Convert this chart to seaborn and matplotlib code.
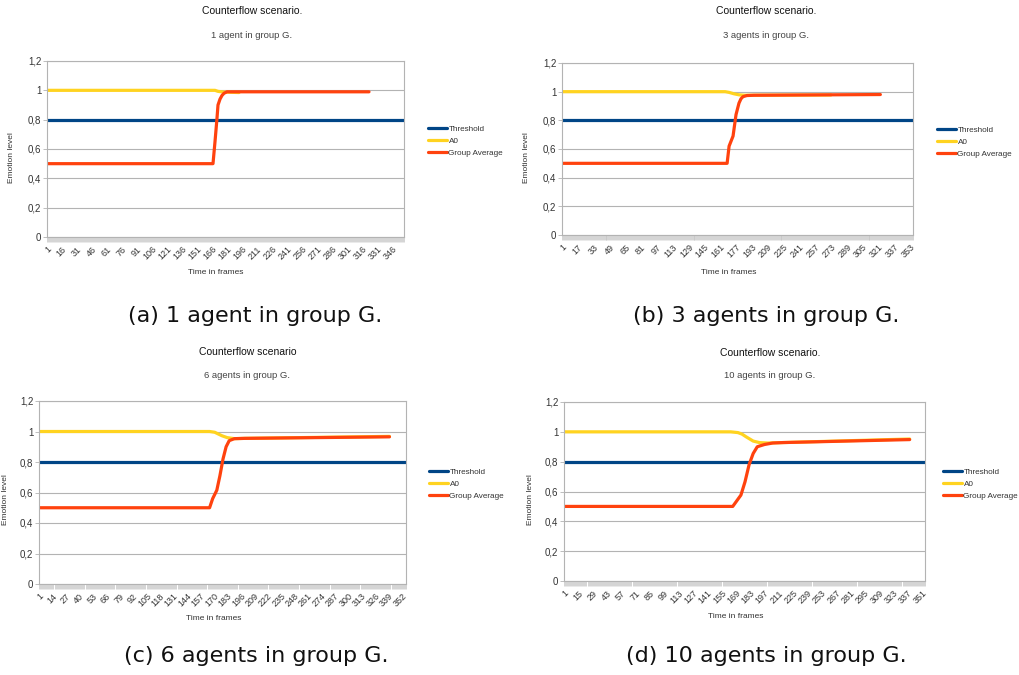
import numpy as np
import pandas as pd
import seaborn as sns
import matplotlib
matplotlib.use("Agg")
import matplotlib.pyplot as plt
from matplotlib.ticker import MultipleLocator, FixedLocator

# ---------------- data ----------------
series_names = ["Threshold", "A0", "Group Average"]
threshold_value = 0.8

# panel (a): 1 agent
n_frames_a = 358
a0_frames_a = [1, 169, 172, 178, 193]
a0_vals_a = [1.0, 1.0, 0.993, 0.988, 0.985]
ga_frames_a = [1, 167, 169, 171, 172, 174, 176, 178, 181, 186, 323]
ga_vals_a = [0.5, 0.5, 0.65, 0.81, 0.90, 0.94, 0.965, 0.98, 0.99, 0.99, 0.99]

# panel (b): 3 agents
n_frames_b = 356
a0_frames_b = [1, 166, 170, 175, 180, 186, 273]
a0_vals_b = [1.0, 1.0, 0.995, 0.985, 0.978, 0.975, 0.977]
ga_frames_b = [1, 168, 170, 174, 177, 180, 182, 184, 188, 195, 323]
ga_vals_b = [0.5, 0.5, 0.62, 0.69, 0.84, 0.92, 0.95, 0.965, 0.973, 0.975, 0.98]

# panel (c): 6 agents
n_frames_c = 356
a0_frames_c = [1, 166, 171, 174, 178, 183, 190, 200, 340]
a0_vals_c = [1.0, 1.0, 0.995, 0.985, 0.972, 0.96, 0.953, 0.955, 0.968]
ga_frames_c = [1, 166, 169, 173, 176, 179, 182, 185, 190, 200, 340]
ga_vals_c = [0.5, 0.5, 0.56, 0.615, 0.71, 0.82, 0.90, 0.94, 0.953, 0.955, 0.965]

# panel (d): 10 agents
n_frames_d = 354
a0_frames_d = [1, 164, 171, 175, 179, 186, 192, 200, 215, 339]
a0_vals_d = [1.0, 1.0, 0.995, 0.985, 0.967, 0.938, 0.928, 0.925, 0.928, 0.952]
ga_frames_d = [1, 166, 174, 178, 182, 186, 190, 197, 205, 215, 339]
ga_vals_d = [0.5, 0.5, 0.576, 0.665, 0.78, 0.855, 0.90, 0.915, 0.925, 0.928, 0.948]

label_steps = [15, 16, 13, 14]
titles = ["Counterflow scenario.", "Counterflow scenario.",
          "Counterflow scenario", "Counterflow scenario."]
subtitles = ["1 agent in group G.", "3 agents in group G.",
             "6 agents in group G.", "10 agents in group G."]
captions = ["(a) 1 agent in group G.", "(b) 3 agents in group G.",
            "(c) 6 agents in group G.", "(d) 10 agents in group G."]
y_ticks = [0, 0.2, 0.4, 0.6, 0.8, 1.0, 1.2]
y_tick_labels = ["0", "0,2", "0,4", "0,6", "0,8", "1", "1,2"]
x_label = "Time in frames"
y_label = "Emotion level"

# ---------------- style ----------------
sns.set_style("white")
plt.rcParams["font.family"] = ["Liberation Sans", "DejaVu Sans"]
COL = {"Threshold": "#004586", "A0": "#ffd320", "Group Average": "#ff420e"}
GRID = "#b3b3b3"
W, H = 1020, 675
CHART_FONT = ["Liberation Sans", "DejaVu Sans"]
CAP_FONT = ["DejaVu Sans"]

fig = plt.figure(figsize=(W / 100, H / 100), dpi=100)


def fx(x):
    return x / W


def fy(y):
    return 1 - y / H


panels = [
    dict(n=n_frames_a, a0=(a0_frames_a, a0_vals_a), ga=(ga_frames_a, ga_vals_a),
         box=(47, 61, 404, 237), title=(252, 11), sub=(252, 35), ylab=(12, 158),
         xlab=(216, 273), leg=(428, 141), cap=(255, 316)),
    dict(n=n_frames_b, a0=(a0_frames_b, a0_vals_b), ga=(ga_frames_b, ga_vals_b),
         box=(562, 63, 913, 235), title=(766, 11), sub=(766, 36), ylab=(527, 158),
         xlab=(729, 273), leg=(937, 142), cap=(766, 316)),
    dict(n=n_frames_c, a0=(a0_frames_c, a0_vals_c), ga=(ga_frames_c, ga_vals_c),
         box=(39, 401, 406, 584), title=(248, 352), sub=(247, 376), ylab=(6, 500),
         xlab=(214, 618), leg=(429, 484), cap=(256, 656)),
    dict(n=n_frames_d, a0=(a0_frames_d, a0_vals_d), ga=(ga_frames_d, ga_vals_d),
         box=(564, 402, 925, 581), title=(770, 353), sub=(770, 376), ylab=(530, 500),
         xlab=(736, 617), leg=(943, 484), cap=(766, 656)),
]

for i, p in enumerate(panels):
    x0, y0, x1, y1 = p["box"]
    ax = fig.add_axes([fx(x0), fy(y1), (x1 - x0) / W, (y1 - y0) / H])
    n = p["n"]
    df_t = pd.DataFrame({"frame": [1, n], "value": [threshold_value, threshold_value]})
    df_a0 = pd.DataFrame({"frame": p["a0"][0], "value": p["a0"][1]})
    df_ga = pd.DataFrame({"frame": p["ga"][0], "value": p["ga"][1]})
    sns.lineplot(data=df_t, x="frame", y="value", ax=ax, color=COL["Threshold"],
                 linewidth=2.3, label="Threshold", legend=False)
    sns.lineplot(data=df_a0, x="frame", y="value", ax=ax, color=COL["A0"],
                 linewidth=2.3, label="A0", legend=False)
    sns.lineplot(data=df_ga, x="frame", y="value", ax=ax, color=COL["Group Average"],
                 linewidth=2.3, label="Group Average", legend=False)

    ax.set_xlim(1, n)
    ax.set_ylim(0, 1.2)
    ax.set_xlabel("")
    ax.set_ylabel("")
    ax.yaxis.set_major_locator(FixedLocator(y_ticks))
    ax.set_yticklabels(y_tick_labels)
    step = label_steps[i]
    xt = list(range(1, n + 1, step))
    ax.xaxis.set_major_locator(FixedLocator(xt))
    ax.set_xticklabels([str(v) for v in xt], rotation=45, ha="right", va="top",
                       rotation_mode="anchor")
    ax.xaxis.set_minor_locator(MultipleLocator(1))
    ax.tick_params(axis="x", which="both", bottom=True, direction="out", length=3.5,
                   width=0.5, color="#c4c4c4", labelsize=6.5, labelcolor="#333333",
                   pad=2)
    ax.tick_params(axis="y", which="major", left=True, direction="out", length=3,
                   width=0.6, color=GRID, labelsize=7, labelcolor="#333333", pad=1)
    ax.grid(axis="y", color=GRID, linewidth=0.8)
    ax.grid(axis="x", visible=False)
    ax.set_axisbelow(True)
    for s in ax.spines.values():
        s.set_color(GRID)
        s.set_linewidth(0.8)
        s.set_visible(True)

    fig.text(fx(p["title"][0]), fy(p["title"][1]), titles[i], ha="center",
             va="center", fontsize=7.5, color="#111111")
    fig.text(fx(p["sub"][0]), fy(p["sub"][1]), subtitles[i], ha="center",
             va="center", fontsize=6.8, color="#444444")
    fig.text(fx(p["ylab"][0]), fy(p["ylab"][1]), y_label, ha="center",
             va="center", rotation=90, fontsize=6, color="#333333")
    fig.text(fx(p["xlab"][0]), fy(p["xlab"][1]), x_label, ha="center",
             va="center", fontsize=6, color="#333333")
    handles, labels = ax.get_legend_handles_labels()
    fig.legend(handles, labels, loc="center left",
               bbox_to_anchor=(fx(p["leg"][0]), fy(p["leg"][1])),
               frameon=False, prop={"family": CHART_FONT, "size": 5.9},
               handlelength=2.3, handletextpad=0.2, labelspacing=0.55,
               borderpad=0, borderaxespad=0, labelcolor="#333333")
    fig.text(fx(p["cap"][0]), fy(p["cap"][1]), captions[i], ha="center",
             va="center", fontsize=16, color="#111111", family=CAP_FONT)

fig.savefig("out.png", dpi=100)
